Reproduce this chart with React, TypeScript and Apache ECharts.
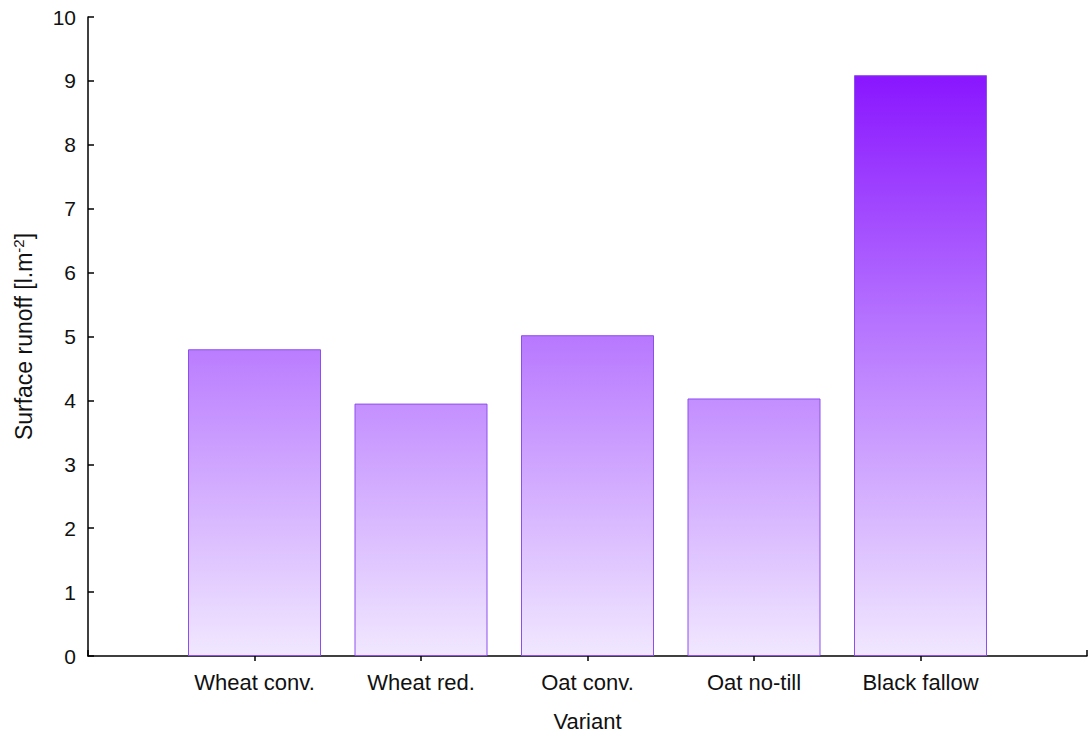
import React, { useEffect, useRef } from "react";
import * as echarts from "echarts";

const categories = ["Wheat conv.", "Wheat red.", "Oat conv.", "Oat no-till", "Black fallow"];
const runoff = [4.8, 3.95, 5.02, 4.03, 9.09];
const yTicks = [0, 1, 2, 3, 4, 5, 6, 7, 8, 9, 10];

export default function App() {
  const ref = useRef<HTMLDivElement>(null);
  useEffect(() => {
    if (!ref.current) return;
    const chart = echarts.init(ref.current, undefined, { renderer: "svg" });
    const font = "'Liberation Sans', Arial, sans-serif";
    const top = 17;
    const bottomPx = 657;
    const positions = categories.map((_, i) => i + 1);
    chart.setOption({
      animation: false,
      textStyle: { fontFamily: font },
      grid: { left: 88, right: 3, top: top, bottom: 737 - bottomPx },
      xAxis: [
        {
          type: "value",
          min: 0,
          max: categories.length + 1,
          interval: 1,
          splitLine: { show: false },
          axisLine: { lineStyle: { color: "#000", width: 1.5 } },
          axisTick: { inside: true, length: 6, lineStyle: { color: "#000", width: 1.5 } },
          axisLabel: {
            color: "#111",
            fontSize: 22,
            margin: 15,
            fontFamily: font,
            formatter: (v: number) => (v >= 1 && v <= categories.length ? categories[v - 1] : ""),
          },
          name: "Variant",
          nameLocation: "middle",
          nameGap: 54,
          nameTextStyle: { color: "#111", fontSize: 22, fontFamily: font },
        },
        {
          type: "value",
          position: "bottom",
          min: 0,
          max: categories.length + 1,
          splitLine: { show: false },
          axisLine: { show: false },
          axisTick: { show: true, inside: false, length: 5, customValues: positions, lineStyle: { color: "#000", width: 1.5 } },
          axisLabel: { show: false },
        },
      ],
      yAxis: {
        type: "value",
        min: yTicks[0],
        max: yTicks[yTicks.length - 1],
        interval: 1,
        splitLine: { show: false },
        axisLine: { show: true, lineStyle: { color: "#000", width: 1.5 } },
        axisTick: { show: true, inside: true, length: 6, lineStyle: { color: "#000", width: 1.5 } },
        axisLabel: { color: "#111", fontSize: 21, margin: 12, fontFamily: font },
        name: "{a|Surface runoff [l.m}{s|-2}{a|]}",
        nameLocation: "middle",
        nameGap: 52,
        nameRotate: 90,
        nameTextStyle: {
          rich: {
            a: { fontSize: 23, color: "#111", fontFamily: font },
            s: { fontSize: 15, color: "#111", fontFamily: font, verticalAlign: "top", padding: [0, 0, 10, 0] },
          },
        },
      },
      series: [
        {
          type: "bar",
          barWidth: 133,
          xAxisIndex: 0,
          data: runoff.map((v, i) => [positions[i], v]),
          itemStyle: {
            color: new echarts.graphic.LinearGradient(
              0, top, 0, bottomPx,
              [
                { offset: 0, color: "#7f00ff" },
                { offset: 0.5, color: "#b878ff" },
                { offset: 1, color: "#f1e8ff" },
              ],
              true
            ),
            borderColor: "#8d4ef0",
            borderWidth: 1,
          },
        },
      ],
    });
    return () => chart.dispose();
  }, []);
  return (
    <div
      ref={ref}
      style={{ position: "fixed", left: 0, top: 0, width: 1090, height: 737, background: "#fff" }}
    />
  );
}
